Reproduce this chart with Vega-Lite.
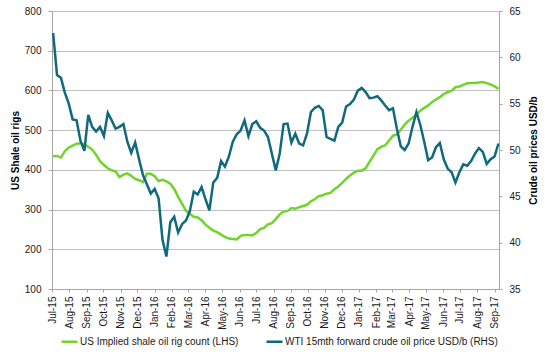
{
  "$schema": "https://vega.github.io/schema/vega-lite/v6.json",
  "width": 447,
  "height": 278,
  "autosize": {"type": "none"},
  "padding": {"left": 52, "top": 11, "right": 46, "bottom": 67},
  "background": "white",
  "config": {
    "font": "Liberation Sans",
    "view": {"stroke": null},
    "axis": {"labelFont": "Liberation Sans", "titleFont": "Liberation Sans", "labelFontSize": 10, "titleFontSize": 10, "labelColor": "#1a1a1a", "titleColor": "#000000", "titleFontWeight": "bold"}
  },
  "data": {"values": [
    {"date": "2015-07-03", "rig": 434, "wti": 62.6},
    {"date": "2015-07-10", "rig": 435, "wti": 58.1},
    {"date": "2015-07-17", "rig": 431, "wti": 57.8},
    {"date": "2015-07-24", "rig": 447, "wti": 56.2},
    {"date": "2015-07-31", "rig": 456, "wti": 55.0},
    {"date": "2015-08-07", "rig": 461, "wti": 53.3},
    {"date": "2015-08-14", "rig": 466, "wti": 53.2},
    {"date": "2015-08-21", "rig": 467, "wti": 51.0},
    {"date": "2015-08-28", "rig": 464, "wti": 49.9},
    {"date": "2015-09-04", "rig": 458, "wti": 53.8},
    {"date": "2015-09-11", "rig": 451, "wti": 52.5},
    {"date": "2015-09-18", "rig": 438, "wti": 52.0},
    {"date": "2015-09-25", "rig": 422, "wti": 52.5},
    {"date": "2015-10-02", "rig": 412, "wti": 51.5},
    {"date": "2015-10-09", "rig": 404, "wti": 54.0},
    {"date": "2015-10-16", "rig": 399, "wti": 53.2},
    {"date": "2015-10-23", "rig": 396, "wti": 52.3},
    {"date": "2015-10-30", "rig": 382, "wti": 52.5},
    {"date": "2015-11-06", "rig": 388, "wti": 52.8},
    {"date": "2015-11-13", "rig": 391, "wti": 50.9},
    {"date": "2015-11-20", "rig": 385, "wti": 49.7},
    {"date": "2015-11-27", "rig": 377, "wti": 50.8},
    {"date": "2015-12-04", "rig": 374, "wti": 49.0},
    {"date": "2015-12-11", "rig": 369, "wti": 47.3},
    {"date": "2015-12-18", "rig": 390, "wti": 46.3},
    {"date": "2015-12-25", "rig": 390, "wti": 45.3},
    {"date": "2016-01-01", "rig": 384, "wti": 45.8},
    {"date": "2016-01-08", "rig": 372, "wti": 44.8},
    {"date": "2016-01-15", "rig": 375, "wti": 40.3},
    {"date": "2016-01-22", "rig": 371, "wti": 38.5},
    {"date": "2016-01-29", "rig": 365, "wti": 42.2},
    {"date": "2016-02-05", "rig": 352, "wti": 42.8},
    {"date": "2016-02-12", "rig": 332, "wti": 41.1},
    {"date": "2016-02-19", "rig": 315, "wti": 42.0},
    {"date": "2016-02-26", "rig": 297, "wti": 42.4},
    {"date": "2016-03-04", "rig": 289, "wti": 43.4},
    {"date": "2016-03-11", "rig": 282, "wti": 45.5},
    {"date": "2016-03-18", "rig": 280, "wti": 45.2},
    {"date": "2016-03-25", "rig": 273, "wti": 46.0},
    {"date": "2016-04-01", "rig": 262, "wti": 44.7},
    {"date": "2016-04-08", "rig": 254, "wti": 43.5},
    {"date": "2016-04-15", "rig": 247, "wti": 46.5},
    {"date": "2016-04-22", "rig": 243, "wti": 47.0},
    {"date": "2016-04-29", "rig": 237, "wti": 48.8},
    {"date": "2016-05-06", "rig": 231, "wti": 48.2},
    {"date": "2016-05-13", "rig": 227, "wti": 49.3},
    {"date": "2016-05-20", "rig": 226, "wti": 50.9},
    {"date": "2016-05-27", "rig": 225, "wti": 51.7},
    {"date": "2016-06-03", "rig": 234, "wti": 52.1},
    {"date": "2016-06-10", "rig": 236, "wti": 53.2},
    {"date": "2016-06-17", "rig": 236, "wti": 51.5},
    {"date": "2016-06-24", "rig": 235, "wti": 52.8},
    {"date": "2016-07-01", "rig": 241, "wti": 53.1},
    {"date": "2016-07-08", "rig": 251, "wti": 52.4},
    {"date": "2016-07-15", "rig": 254, "wti": 52.1},
    {"date": "2016-07-22", "rig": 263, "wti": 51.4},
    {"date": "2016-07-29", "rig": 266, "wti": 49.6},
    {"date": "2016-08-05", "rig": 276, "wti": 47.8},
    {"date": "2016-08-12", "rig": 288, "wti": 49.6},
    {"date": "2016-08-19", "rig": 295, "wti": 52.8},
    {"date": "2016-08-26", "rig": 296, "wti": 52.85},
    {"date": "2016-09-02", "rig": 304, "wti": 50.8},
    {"date": "2016-09-09", "rig": 302, "wti": 51.75},
    {"date": "2016-09-16", "rig": 306, "wti": 50.7},
    {"date": "2016-09-23", "rig": 309, "wti": 50.5},
    {"date": "2016-09-30", "rig": 312, "wti": 51.8},
    {"date": "2016-10-07", "rig": 321, "wti": 54.1},
    {"date": "2016-10-14", "rig": 326, "wti": 54.55},
    {"date": "2016-10-21", "rig": 334, "wti": 54.75},
    {"date": "2016-10-28", "rig": 336, "wti": 54.3},
    {"date": "2016-11-04", "rig": 340, "wti": 51.4},
    {"date": "2016-11-11", "rig": 342, "wti": 51.2},
    {"date": "2016-11-18", "rig": 351, "wti": 51.0},
    {"date": "2016-11-25", "rig": 358, "wti": 52.5},
    {"date": "2016-12-02", "rig": 367, "wti": 52.95},
    {"date": "2016-12-09", "rig": 377, "wti": 54.7},
    {"date": "2016-12-16", "rig": 386, "wti": 54.95},
    {"date": "2016-12-23", "rig": 393, "wti": 55.45},
    {"date": "2016-12-30", "rig": 397.5, "wti": 56.4},
    {"date": "2017-01-06", "rig": 398, "wti": 56.7},
    {"date": "2017-01-13", "rig": 404, "wti": 56.25},
    {"date": "2017-01-20", "rig": 420, "wti": 55.6},
    {"date": "2017-01-27", "rig": 436, "wti": 55.65},
    {"date": "2017-02-03", "rig": 452, "wti": 55.8},
    {"date": "2017-02-10", "rig": 458, "wti": 55.35},
    {"date": "2017-02-17", "rig": 462, "wti": 54.8},
    {"date": "2017-02-24", "rig": 474, "wti": 54.3},
    {"date": "2017-03-03", "rig": 486, "wti": 54.5},
    {"date": "2017-03-10", "rig": 489, "wti": 52.3},
    {"date": "2017-03-17", "rig": 501, "wti": 50.4},
    {"date": "2017-03-24", "rig": 514, "wti": 50.0},
    {"date": "2017-03-31", "rig": 524, "wti": 50.7},
    {"date": "2017-04-07", "rig": 531, "wti": 52.5},
    {"date": "2017-04-14", "rig": 539, "wti": 54.1},
    {"date": "2017-04-21", "rig": 549, "wti": 52.7},
    {"date": "2017-04-28", "rig": 556, "wti": 50.9},
    {"date": "2017-05-05", "rig": 562, "wti": 48.9},
    {"date": "2017-05-12", "rig": 570, "wti": 49.2},
    {"date": "2017-05-19", "rig": 577, "wti": 50.3},
    {"date": "2017-05-26", "rig": 583, "wti": 50.75},
    {"date": "2017-06-02", "rig": 591, "wti": 49.0},
    {"date": "2017-06-09", "rig": 596, "wti": 48.0},
    {"date": "2017-06-16", "rig": 599, "wti": 47.6},
    {"date": "2017-06-23", "rig": 608, "wti": 46.5},
    {"date": "2017-06-30", "rig": 610, "wti": 47.6},
    {"date": "2017-07-07", "rig": 614, "wti": 48.45},
    {"date": "2017-07-14", "rig": 618, "wti": 48.3},
    {"date": "2017-07-21", "rig": 618.5, "wti": 48.8},
    {"date": "2017-07-28", "rig": 619, "wti": 49.6},
    {"date": "2017-08-04", "rig": 620, "wti": 50.2},
    {"date": "2017-08-11", "rig": 621, "wti": 49.8},
    {"date": "2017-08-18", "rig": 618.5, "wti": 48.5},
    {"date": "2017-08-25", "rig": 615, "wti": 49.0},
    {"date": "2017-09-01", "rig": 610, "wti": 49.3},
    {"date": "2017-09-08", "rig": 604, "wti": 50.7}
  ]},
  "encoding": {
    "x": {
      "field": "date",
      "type": "temporal",
      "scale": {"type": "utc", "domain": [{"year": 2015, "month": 7, "date": 1, "utc": true}, {"year": 2017, "month": 9, "date": 9, "utc": true}]},
      "axis": {
        "title": null,
        "labelExpr": "utcFormat(datum.value, '%b-%y')",
        "tickCount": {"interval": "month", "step": 1},
        "labelAngle": 270,
        "labelAlign": "right",
        "labelBaseline": "middle",
        "labelPadding": 4,
        "labelOverlap": false,
        "labelFlush": false,
        "tickSize": 3,
        "tickColor": "#a6a6a6",
        "domainColor": "#a6a6a6",
        "grid": false
      }
    },
    "color": {
      "type": "nominal",
      "scale": {
        "domain": ["US Implied shale oil rig count (LHS)", "WTI 15mth forward crude oil price USD/b (RHS)"],
        "range": ["#70D42B", "#11697D"]
      },
      "legend": {
        "title": null,
        "orient": "none",
        "legendX": 8,
        "legendY": 321,
        "direction": "horizontal",
        "symbolType": "stroke",
        "symbolSize": 256,
        "symbolStrokeWidth": 2.5,
        "labelFontSize": 10,
        "labelFont": "Liberation Sans",
        "labelColor": "#1a1a1a",
        "labelLimit": 400,
        "labelOffset": 1,
        "columnPadding": 22
      }
    }
  },
  "layer": [
    {
      "mark": {"type": "line", "strokeWidth": 2.5, "interpolate": "linear"},
      "encoding": {
        "y": {
          "field": "rig",
          "type": "quantitative",
          "scale": {"domain": [100, 800], "nice": false, "zero": false},
          "axis": {
            "title": "US Shale oil rigs",
            "orient": "left",
            "values": [100, 200, 300, 400, 500, 600, 700, 800],
            "grid": true,
            "gridColor": "#c0c0c0",
            "gridWidth": 1,
            "domainColor": "#a6a6a6",
            "tickColor": "#a6a6a6",
            "tickSize": 4,
            "labelPadding": 7,
            "titlePadding": 4
          }
        },
        "color": {"datum": "US Implied shale oil rig count (LHS)"}
      }
    },
    {
      "mark": {"type": "line", "strokeWidth": 2.5, "interpolate": "linear"},
      "encoding": {
        "y": {
          "field": "wti",
          "type": "quantitative",
          "scale": {"domain": [35, 65], "nice": false, "zero": false},
          "axis": {
            "title": "Crude oil prices USD/b",
            "orient": "right",
            "values": [35, 40, 45, 50, 55, 60, 65],
            "grid": false,
            "domainColor": "#a6a6a6",
            "tickColor": "#a6a6a6",
            "tickSize": 3,
            "labelPadding": 7,
            "titleAngle": 270,
            "titlePadding": 18
          }
        },
        "color": {"datum": "WTI 15mth forward crude oil price USD/b (RHS)"}
      }
    }
  ],
  "resolve": {"scale": {"y": "independent"}}
}
